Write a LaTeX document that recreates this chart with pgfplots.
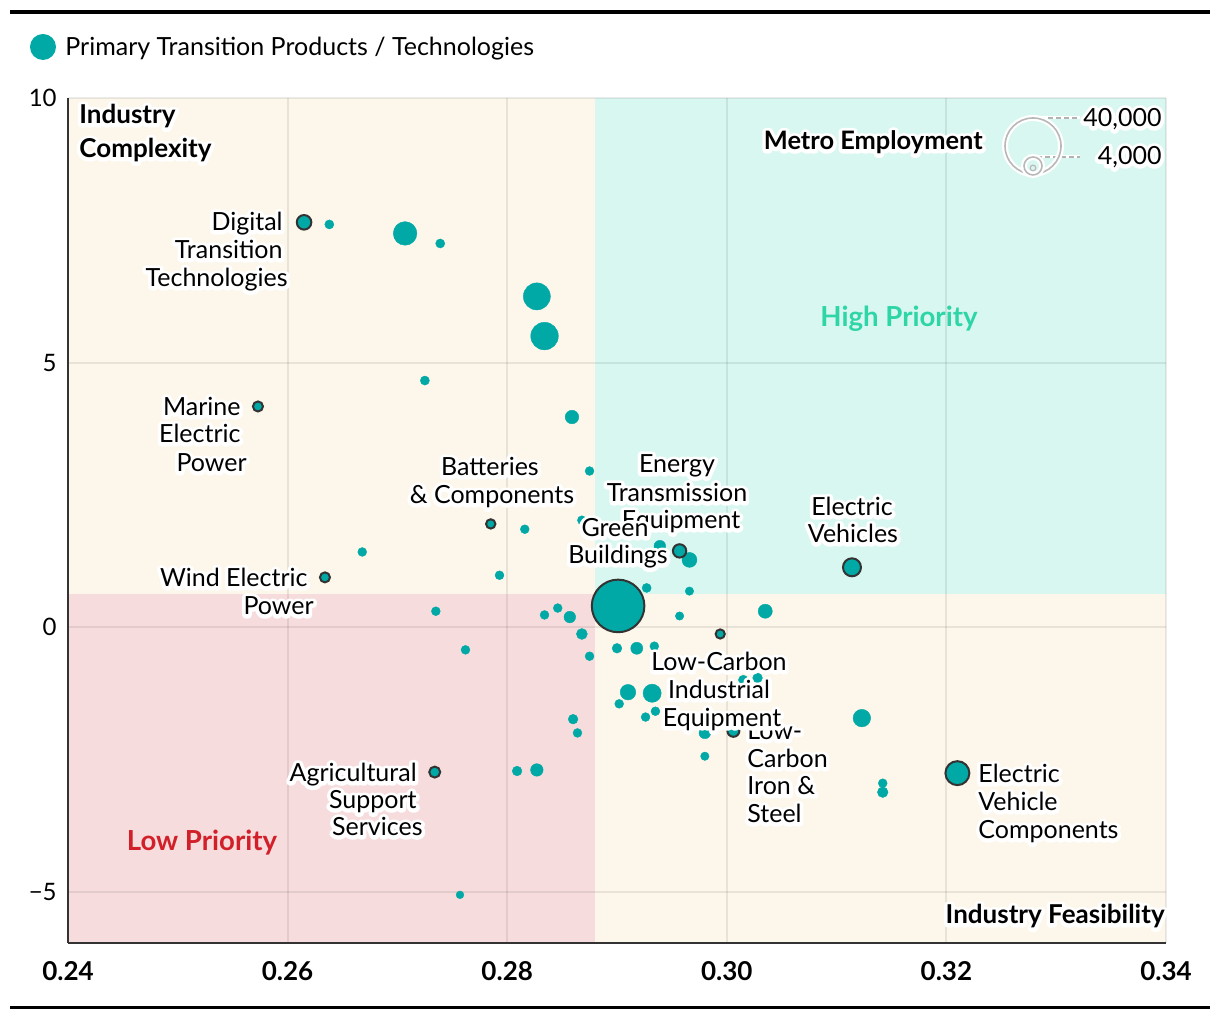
\documentclass[border=0pt]{standalone}
\usepackage{pgfplots}
\pgfplotsset{compat=1.18}
\usepackage{pgfplotstable}
\usepackage{fontspec}
\setmainfont{Lato}
\definecolor{teal1}{HTML}{00A9A6}
\definecolor{cream}{HTML}{FDF6EA}
\definecolor{mint}{HTML}{D8F7F0}
\definecolor{pinkq}{HTML}{F7DCDD}
\definecolor{outl}{HTML}{333333}
\definecolor{hiprio}{HTML}{2ED5A6}
\definecolor{loprio}{HTML}{D2202A}
\newcommand{\lbl}{\fontsize{12.5}{15}\selectfont}
\newcommand{\blbl}{\fontsize{13}{15}\selectfont\bfseries}
% white outline (stroked text) under the text
\newcommand{\halo}[1]{{\color{white}\special{pdf:literal direct 1 j 1 J 2 Tr 3.6 w}#1\special{pdf:literal direct 0 Tr}}}
% halo label: [font]{anchor}{position}{text}
\newcommand{\hl}[4][\lbl]{%
  \node[anchor=#2, inner sep=0pt, font=#1] at #3 {\makebox[0pt][l]{\halo{#4}}#4};}

\pgfplotstableread{
x y emp
0.2638 7.61 1150
0.2707 7.44 7350
0.2739 7.25 1150
0.2827 6.25 9600
0.2834 5.50 10000
0.2725 4.66 1150
0.2859 3.97 2500
0.2875 2.95 1100
0.2816 1.85 1100
0.2868 2.02 1100
0.2668 1.42 1100
0.2793 0.98 1100
0.2966 1.27 3000
0.2939 1.53 1850
0.2927 0.74 1150
0.2966 0.68 1000
0.3035 0.30 2700
0.2957 0.21 1000
0.2735 0.30 1100
0.2834 0.23 1100
0.2846 0.36 1100
0.2857 0.19 1850
0.2868 -0.13 1650
0.2875 -0.55 1100
0.2762 -0.43 1100
0.2900 -0.40 1300
0.2918 -0.40 2000
0.2934 -0.36 1100
0.2910 -1.23 3250
0.2932 -1.25 4400
0.2902 -1.45 1100
0.2926 -1.70 1100
0.2935 -1.59 1100
0.2980 -2.00 1850
0.2980 -2.44 1000
0.3015 -1.00 1300
0.3028 -0.96 1300
0.2860 -1.74 1300
0.2864 -2.00 1100
0.2809 -2.72 1300
0.2827 -2.70 2150
0.2757 -5.06 850
0.3123 -1.72 4100
0.3142 -2.95 1100
0.3142 -3.12 1550
}\plaindata

\pgfplotstableread{
x y emp
0.2615 7.65 3500
0.2573 4.17 1850
0.2785 1.95 1650
0.2634 0.94 1850
0.2901 0.40 38000
0.2957 1.44 3000
0.2994 -0.13 1600
0.3114 1.13 5100
0.3006 -1.96 2500
0.2734 -2.74 2150
0.3210 -2.76 8600
}\outlineddata

\begin{document}
\begin{tikzpicture}
% pixel frame: 1 px = 0.5pt, origin at image top-left
\begin{scope}[x=0.5pt, y=-0.5pt, shift={(-34pt,471.5pt)}]
  \useasboundingbox (0,0) rectangle (1220,1020);
\end{scope}

\begin{axis}[
  at={(0,0)}, anchor=south west,
  scale only axis, width=549pt, height=422.5pt,
  xmin=0.24, xmax=0.34, ymin=-5.97, ymax=10,
  set layers,
  axis x line*=bottom, axis y line*=left,
  axis line style={draw=outl, line width=1pt, -},
  xtick={0.24,0.26,0.28,0.30,0.32,0.34},
  xticklabels={0.24,0.26,0.28,0.30,0.32,0.34},
  ytick={-5,0,5,10},
  yticklabels={\char"2212 5,0,5,10},
  major tick length=0pt,
  grid=major,
  grid style={draw=black, opacity=0.08, line width=1pt},
  xticklabel style={font=\fontsize{13}{15}\selectfont\bfseries, anchor=center, yshift=-14pt},
  yticklabel style={font=\fontsize{12}{14}\selectfont, anchor=east, inner sep=0pt, xshift=-5.5pt},
]
\begin{pgfonlayer}{axis background}
  \fill[cream] (axis cs:0.24,-5.97) rectangle (axis cs:0.34,10);
  \fill[mint] (axis cs:0.288,0.62) rectangle (axis cs:0.34,10);
  \fill[pinkq] (axis cs:0.24,-5.97) rectangle (axis cs:0.288,0.62);
\end{pgfonlayer}

\addplot[scatter, only marks, mark=*, point meta=\thisrow{emp},
  mark options={draw=teal1, fill=teal1, line width=0.2pt},
  scatter/use mapped color={draw=teal1, fill=teal1},
  visualization depends on={14*sqrt(\thisrow{emp}/40000)-0.1 \as \rad},
  scatter/@pre marker code/.append style={/tikz/mark size=\rad pt}]
  table[x=x, y=y] {\plaindata};

\addplot[scatter, only marks, mark=*, point meta=\thisrow{emp},
  mark options={draw=outl, fill=teal1, line width=1pt},
  scatter/use mapped color={draw=outl, fill=teal1},
  visualization depends on={14*sqrt(\thisrow{emp}/40000)-0.5 \as \rad},
  scatter/@pre marker code/.append style={/tikz/mark size=\rad pt}]
  table[x=x, y=y] {\outlineddata};
\end{axis}

\begin{scope}[x=0.5pt, y=-0.5pt, shift={(-34pt,471.5pt)}]
  % rules
  \draw[line width=2pt] (10,12) -- (1210,12);
  \draw[line width=1.5pt] (10,1008) -- (1210,1008);
  % legend
  \fill[teal1] (43,47) circle[radius=13];
  \node[anchor=base west, inner sep=0pt, font=\lbl] at (65,56) {Primary Transition Products / Technologies};

  % corner labels
  \hl[\blbl]{base west}{(79,124)}{Industry}
  \hl[\blbl]{base west}{(79,158)}{Complexity}
  \hl[\blbl]{base east}{(1165,924)}{Industry Feasibility}
  \node[anchor=base, inner sep=0pt, font=\fontsize{13.8}{16}\selectfont\bfseries, text=hiprio] at (899,327) {High Priority};
  \node[anchor=base, inner sep=0pt, font=\fontsize{13.8}{16}\selectfont\bfseries, text=loprio] at (202,851) {Low Priority};

  % size legend
  \hl[\fontsize{12.7}{15}\selectfont\bfseries]{base east}{(983,150)}{Metro Employment}
  \draw[white, line width=1.5pt] (1040,118) -- (1080,118);
  \draw[black!30, line width=0.6pt, dash pattern=on 2.5pt off 1.5pt] (1040,118) -- (1080,118);
  \draw[white, line width=1.5pt] (1037,157) -- (1080,157);
  \draw[black!30, line width=0.6pt, dash pattern=on 2.5pt off 1.5pt] (1037,157) -- (1080,157);
  \draw[white, line width=3pt] (1033,146) circle[radius=28];
  \draw[black!28, line width=0.8pt] (1033,146) circle[radius=28];
  \draw[white, line width=3pt] (1033,166) circle[radius=9];
  \draw[black!28, line width=0.8pt] (1033,166) circle[radius=9];
  \draw[black!28, line width=0.6pt] (1033,168) circle[radius=2.8];
  \hl{base east}{(1162,127)}{40,000}
  \hl{base east}{(1162,165)}{4,000}

  % point labels
  \hl{base east}{(283,231)}{Digital}
  \hl{base east}{(283,259)}{Transition}
  \hl{base east}{(288,287)}{Technologies}

  \hl{base east}{(241,416)}{Marine}
  \hl{base east}{(241,443)}{Electric}
  \hl{base east}{(247,472)}{Power}

  \hl{base}{(490,476)}{Batteries}
  \hl{base}{(492,504)}{\& Components}

  \hl{base east}{(308,587)}{Wind Electric}
  \hl{base east}{(314,615)}{Power}

  \hl{base}{(677,473)}{Energy}
  \hl{base}{(677,502)}{Transmission}
  \hl{base}{(681,529)}{Equipment}

  \hl{base}{(615,537)}{Green}
  \hl{base}{(618,564)}{Buildings}

  \hl{base}{(852,516)}{Electric}
  \hl{base}{(853,543)}{Vehicles}

  \hl{base west}{(747,740)}{Low-}
  \hl{base west}{(747,768)}{Carbon}
  \hl{base west}{(747,795)}{Iron \&}
  \hl{base west}{(747,823)}{Steel}

  \hl{base}{(719,671)}{Low-Carbon}
  \hl{base}{(719,699)}{Industrial}
  \hl{base}{(722,727)}{Equipment}

  \hl{base east}{(417,782)}{Agricultural}
  \hl{base east}{(417,809)}{Support}
  \hl{base east}{(423,836)}{Services}

  \hl{base west}{(978,783)}{Electric}
  \hl{base west}{(978,811)}{Vehicle}
  \hl{base west}{(978,839)}{Components}
\end{scope}
\end{tikzpicture}
\end{document}
